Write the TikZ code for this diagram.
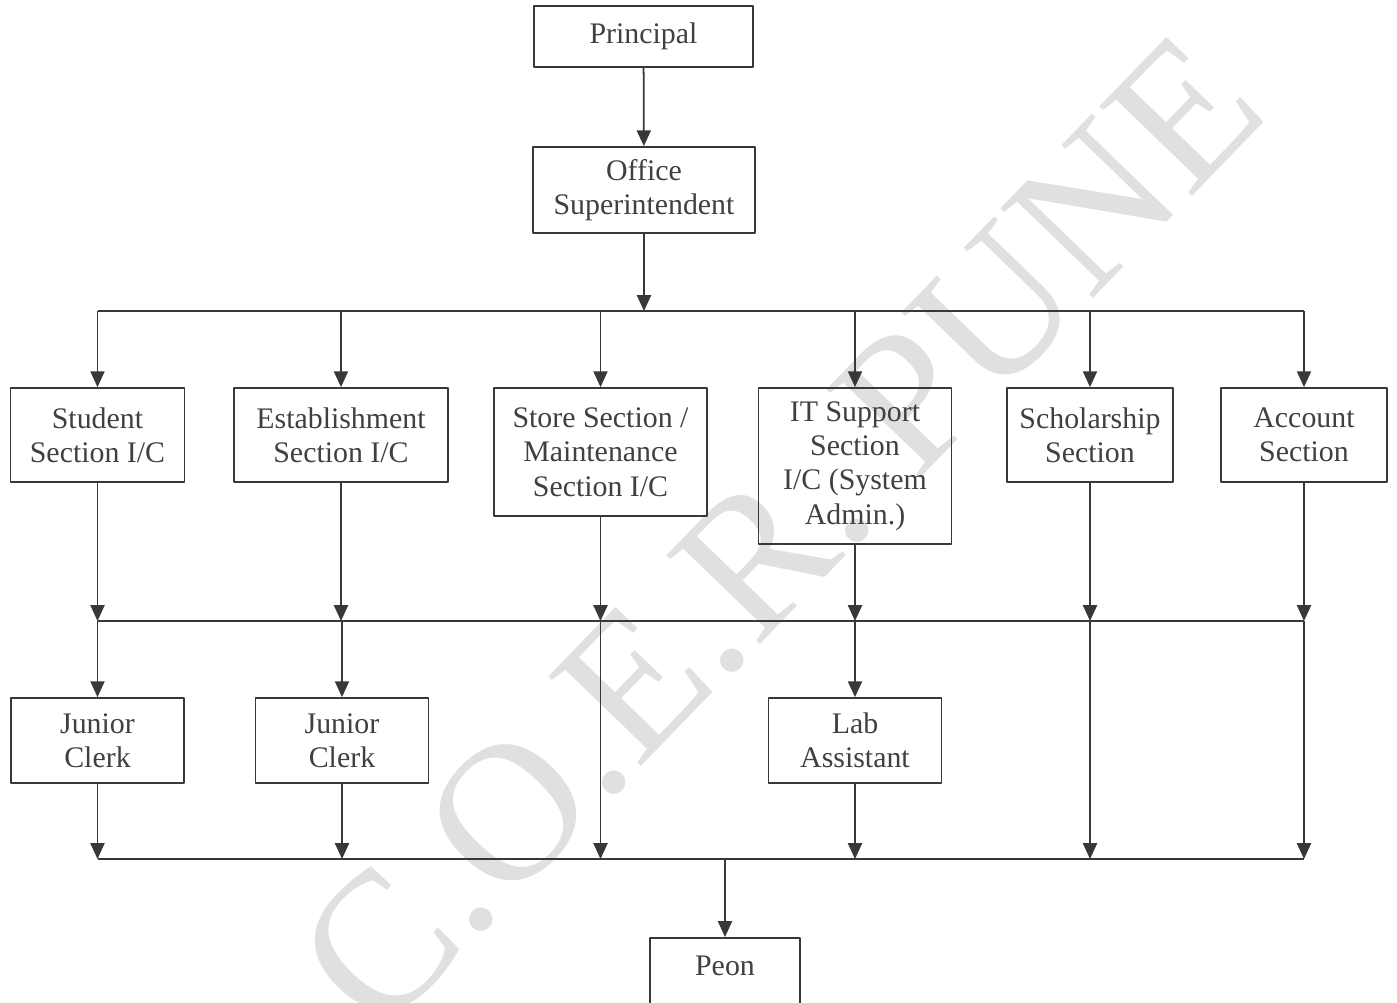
\documentclass[tikz,border=0pt]{standalone}
\usepackage{fontspec}
\setmainfont{Liberation Serif}
\usetikzlibrary{arrows.meta}
\newlength\pxu
\setlength\pxu{0.02cm}

\begin{document}
\begin{tikzpicture}[line join=round,x=0.02cm,y=-0.02cm,
    >={Triangle[width=8pt,length=9pt]},line width=1pt,color=black!78,
    box/.style={draw,align=center,inner sep=0pt,text=black!75,
      font=\fontsize{17}{19.5}\selectfont},
    wmark/.style={text=black!12,font=\fontsize{112}{112}\selectfont}]
              \clip (0,0) rectangle (1397,1002);
              % watermark
              \node[wmark,rotate=46] (wm) at (780,532) {C.O.E.R. PUNE};

              \node[box,minimum width=219\pxu,minimum height=61\pxu] (principal) at (643.5,36.5) {Principal};
              \node[box,minimum width=222\pxu,minimum height=86\pxu] (office) at (644,190) {Office\\Superintendent};

              \node[box,minimum width=174\pxu,minimum height=94\pxu] (student) at (97.5,435) {Student\\Section I/C};
              \node[box,minimum width=214\pxu,minimum height=94\pxu] (estab) at (341,435) {Establishment\\Section I/C};
              \node[box,minimum width=213\pxu,minimum height=128\pxu] (store) at (600.5,452) {Store Section /\\Maintenance\\Section I/C};
              \node[box,minimum width=193\pxu,minimum height=156\pxu] (itsup) at (855,466) {IT Support\\Section\\I/C (System\\Admin.)};
              \node[box,minimum width=166\pxu,minimum height=94\pxu] (schol) at (1090,435) {Scholarship\\Section};
              \node[box,minimum width=166\pxu,minimum height=94\pxu] (account) at (1304,435) {Account\\Section};

              \node[box,minimum width=173\pxu,minimum height=85\pxu] (clerkA) at (97.5,740.5) {Junior\\Clerk};
              \node[box,minimum width=173\pxu,minimum height=85\pxu] (clerkB) at (342,740.5) {Junior\\Clerk};
              \node[box,minimum width=173\pxu,minimum height=85\pxu] (lab) at (855,740.5) {Lab\\Assistant};

              \node[box,minimum width=150\pxu,anchor=north,text height=38\pxu,text depth=62\pxu] (peon) at (725,937) {Peon};

              \coordinate (top) at (644,311);
              \coordinate (mid) at (0,621);
              \coordinate (bot) at (0,859);

              \draw[->] (principal) -- (office);
              \draw[->] (office.south) -- (top);
              \draw (student.north |- top) -- (account.north |- top);
              \foreach \n in {student,estab,store,itsup,schol,account}
              \draw[->] (\n.north |- top) -- (\n.north);

              \draw (student.south |- mid) -- (account.south |- mid);
              \foreach \n in {student,estab,store,itsup,schol,account}
              \draw[->] (\n.south) -- (\n.south |- mid);
              \foreach \n in {clerkA,clerkB,lab}
              \draw[->] (\n.north |- mid) -- (\n.north);

              \draw (student.south |- bot) -- (account.south |- bot);
              \foreach \n in {clerkA,clerkB,lab}
              \draw[->] (\n.south) -- (\n.south |- bot);
              \foreach \n in {store,schol,account}
              \draw[->] (\n.south |- mid) -- (\n.south |- bot);
              \draw[->] (peon.north |- bot) -- (peon.north);

             \end{tikzpicture}
\end{document}
